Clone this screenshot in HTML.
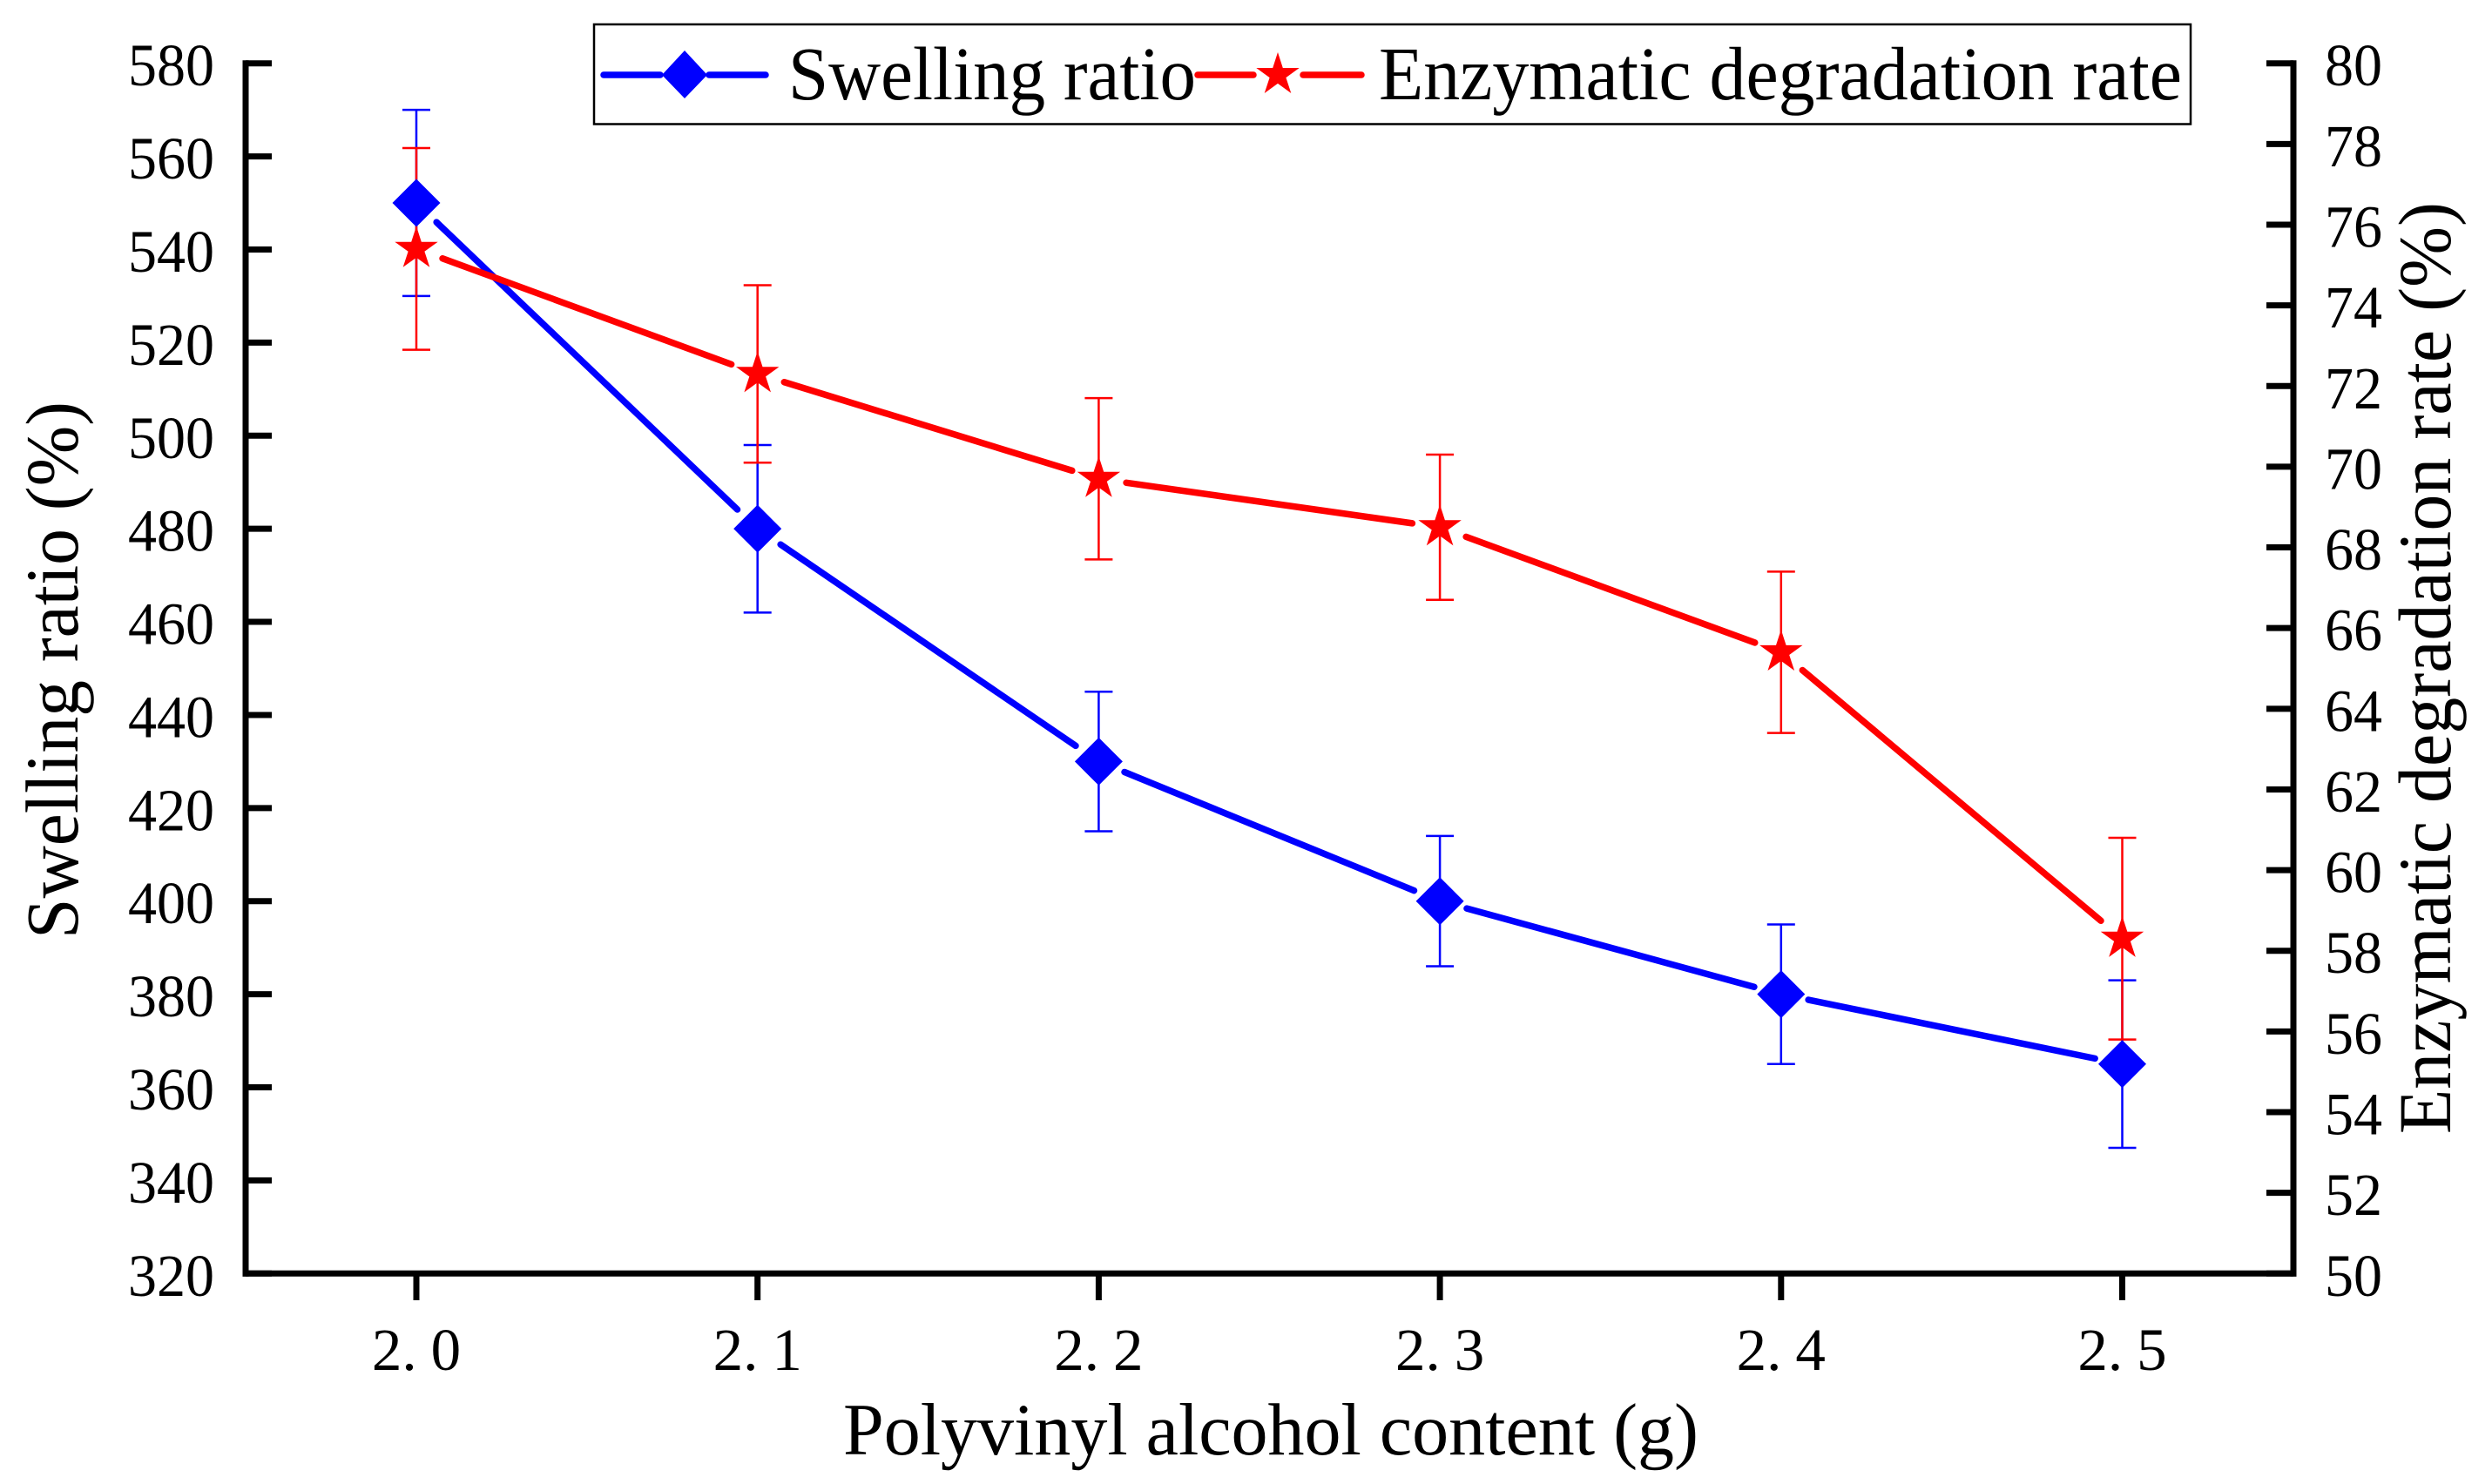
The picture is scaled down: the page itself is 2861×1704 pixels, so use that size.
<!DOCTYPE html>
<html lang="en">
<head>
<meta charset="utf-8">
<title>Swelling ratio and enzymatic degradation rate</title>
<style>
html,body{margin:0;padding:0;background:#fff;}
svg{display:block;}
text{font-family:"Liberation Serif","Noto Serif CJK SC",serif;fill:#000;}
</style>
</head>
<body>
<svg id="chart" xmlns="http://www.w3.org/2000/svg" width="2861" height="1704" viewBox="0 0 2861 1704">
  <rect x="0" y="0" width="2861" height="1704" fill="#fff"/>
  <g id="axes"></g>
  <g id="errors"></g>
  <g id="lines"></g>
  <g id="markers"></g>

  <text x="968" y="1670" font-size="85" textLength="982" lengthAdjust="spacingAndGlyphs">Polyvinyl alcohol content (g)</text>
  <text transform="translate(89,1078) rotate(-90)" font-size="86" textLength="617" lengthAdjust="spacingAndGlyphs">Swelling ratio (%)</text>
  <text transform="translate(2813,1302) rotate(-90)" font-size="86" textLength="1070" lengthAdjust="spacingAndGlyphs">Enzymatic degradation rate (%)</text>

  <g id="legend">
    <rect x="682" y="28" width="1833" height="114.5" fill="#fff" stroke="#000" stroke-width="2.5"/>
    <g>
      <line x1="693" y1="86" x2="758" y2="86" stroke="#0000ff" stroke-width="7.5" stroke-linecap="round"/>
      <line x1="814" y1="86" x2="879" y2="86" stroke="#0000ff" stroke-width="7.5" stroke-linecap="round"/>
      <polygon points="786,58 812,86 786,113 760,86" fill="#0000ff"/>
      <text x="905" y="114" font-size="87" textLength="468" lengthAdjust="spacingAndGlyphs">Swelling ratio</text>
    </g>
    <g>
      <line x1="1375" y1="86" x2="1439" y2="86" stroke="#ff0000" stroke-width="7.5" stroke-linecap="round"/>
      <line x1="1496" y1="86" x2="1563" y2="86" stroke="#ff0000" stroke-width="7.5" stroke-linecap="round"/>
      <polygon id="legend-star" fill="#ff0000"/>
      <text x="1583" y="114" font-size="87" textLength="922" lengthAdjust="spacingAndGlyphs">Enzymatic degradation rate</text>
    </g>
  </g>
</svg>
<script>
const categories = [2.0, 2.1, 2.2, 2.3, 2.4, 2.5];
const xTickLabels = ['2.0', '2.1', '2.2', '2.3', '2.4', '2.5'];
const leftTicks = [320, 340, 360, 380, 400, 420, 440, 460, 480, 500, 520, 540, 560, 580];
const rightTicks = [50, 52, 54, 56, 58, 60, 62, 64, 66, 68, 70, 72, 74, 76, 78, 80];
const swellingValues = [550, 480, 430, 400, 380, 365];
const swellingUpper = [570, 498, 445, 414, 395, 383];
const swellingLower = [530, 462, 415, 386, 365, 347];
const enzymaticValues = [75.4, 72.3, 69.7, 68.5, 65.4, 58.3];
const enzymaticUpper = [77.9, 74.5, 71.7, 70.3, 67.4, 60.8];
const enzymaticLower = [72.9, 70.1, 67.7, 66.7, 63.4, 55.8];

const NS = 'http://www.w3.org/2000/svg';
const plotLeft = 282, plotRight = 2633, plotTop = 72.7, plotBottom = 1462.3;
const xScale = v => 478 + (v - 2.0) * 3917;
const yLeft = v => plotBottom - (v - 320) / 260 * (plotBottom - plotTop);
const yRight = v => plotBottom - (v - 50) / 30 * (plotBottom - plotTop);

function make(parent, tag, attrs, text) {
  const el = document.createElementNS(NS, tag);
  for (const k in attrs) el.setAttribute(k, attrs[k]);
  if (text !== undefined) el.textContent = text;
  parent.appendChild(el);
  return el;
}
function starPoints(cx, cy, R) {
  const r = R * 0.382, pts = [];
  for (let i = 0; i < 10; i++) {
    const a = -Math.PI / 2 + i * Math.PI / 5, d = i % 2 ? r : R;
    pts.push((cx + d * Math.cos(a)).toFixed(1) + ',' + (cy + d * Math.sin(a)).toFixed(1));
  }
  return pts.join(' ');
}
function diamondPoints(cx, cy, R) {
  return [[cx, cy - R], [cx + R, cy], [cx, cy + R], [cx - R, cy]].map(p => p.join(',')).join(' ');
}

const axes = document.getElementById('axes');
const errors = document.getElementById('errors');
const lines = document.getElementById('lines');
const markers = document.getElementById('markers');

document.getElementById('legend-star').setAttribute('points', starPoints(1467, 86, 26));

const axisStyle = {stroke: '#000', 'stroke-width': 7, 'stroke-linecap': 'square'};
const leftAxis = make(axes, 'line', Object.assign({x1: plotLeft, y1: plotTop, x2: plotLeft, y2: plotBottom}, axisStyle));


const rightAxis = make(axes, 'line', Object.assign({x1: plotRight, y1: plotTop, x2: plotRight, y2: plotBottom}, axisStyle));


const bottomAxis = make(axes, 'line', Object.assign({x1: plotLeft, y1: plotBottom, x2: plotRight, y2: plotBottom}, axisStyle));



leftTicks.forEach(v => {
  const y = yLeft(v);
  const t = make(axes, 'line', {x1: plotLeft, y1: y, x2: 312, y2: y, stroke: '#000', 'stroke-width': 7});
  
  
  const l = make(axes, 'text', {x: 246, y: y + 25.5, 'font-size': 69, 'text-anchor': 'end', textLength: 99, lengthAdjust: 'spacingAndGlyphs'}, String(v));
  
  
});
rightTicks.forEach(v => {
  const y = yRight(v);
  const t = make(axes, 'line', {x1: 2602, y1: y, x2: plotRight, y2: y, stroke: '#000', 'stroke-width': 7});
  
  
  const l = make(axes, 'text', {x: 2669, y: y + 25.5, 'font-size': 69, textLength: 66, lengthAdjust: 'spacingAndGlyphs'}, String(v));
  
  
});
categories.forEach((c, i) => {
  const x = xScale(c);
  const t = make(axes, 'line', {x1: x, y1: plotBottom, x2: x, y2: 1493, stroke: '#000', 'stroke-width': 7});
  
  
  const parts = xTickLabels[i].split('.');
  const l = make(axes, 'text', {x: x, y: 1573, 'font-size': 69, 'text-anchor': 'middle'}, parts[0] + '.');
  
  
  make(l, 'tspan', {dx: 16}, parts[1]);
});

function drawErrors(values, upper, lower, yFn, color, key) {
  categories.forEach((c, i) => {
    const x = xScale(c), yu = yFn(upper[i]), yl = yFn(lower[i]);
    const g = make(errors, 'g', {stroke: color, 'stroke-width': 2.5});
    
    
    make(g, 'line', {x1: x, y1: yu, x2: x, y2: yl});
    make(g, 'line', {x1: x - 16, y1: yu, x2: x + 16, y2: yu});
    make(g, 'line', {x1: x - 16, y1: yl, x2: x + 16, y2: yl});
  });
}
function drawLine(values, yFn, color, key) {
  const gap = 32;
  for (let i = 0; i < values.length - 1; i++) {
    const x0 = xScale(categories[i]), y0 = yFn(values[i]);
    const x1 = xScale(categories[i + 1]), y1 = yFn(values[i + 1]);
    const len = Math.hypot(x1 - x0, y1 - y0), ux = (x1 - x0) / len, uy = (y1 - y0) / len;
    const seg = make(lines, 'line', {
      x1: x0 + ux * gap, y1: y0 + uy * gap, x2: x1 - ux * gap, y2: y1 - uy * gap,
      stroke: color, 'stroke-width': 7.5, 'stroke-linecap': 'round'
    });
    
    
  }
}
drawErrors(swellingValues, swellingUpper, swellingLower, yLeft, '#0000ff', 'swelling');
drawErrors(enzymaticValues, enzymaticUpper, enzymaticLower, yRight, '#ff0000', 'enzymatic');
drawLine(swellingValues, yLeft, '#0000ff', 'swelling');
drawLine(enzymaticValues, yRight, '#ff0000', 'enzymatic');

swellingValues.forEach((v, i) => {
  const d = make(markers, 'polygon', {points: diamondPoints(xScale(categories[i]), yLeft(v), 27.5), fill: '#0000ff'});
  
  
});
enzymaticValues.forEach((v, i) => {
  const s = make(markers, 'polygon', {points: starPoints(xScale(categories[i]), yRight(v), 26), fill: '#ff0000'});
  
  
});
</script>
</body>
</html>
